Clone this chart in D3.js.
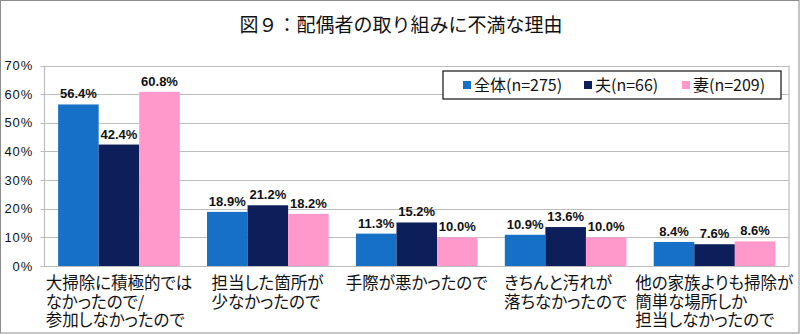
<!DOCTYPE html>
<html><head><meta charset="utf-8">
<script src="https://cdn.jsdelivr.net/npm/d3@7"></script>
<style>
body{margin:0;background:#fff;}
svg{display:block;}
.jp{font-family:"Noto Sans CJK JP","Noto Sans",sans-serif;}
.palt{font-feature-settings:"palt";}
</style></head>
<body><svg id="c" width="800" height="334"></svg>
<script>
const title = "図９：配偶者の取り組みに不満な理由";
const categories = [
  ["大掃除に積極的では","なかったので/","参加しなかったので"],
  ["担当した箇所が","少なかったので"],
  ["手際が悪かったので"],
  ["きちんと汚れが","落ちなかったので"],
  ["他の家族よりも掃除が","簡単な場所しか","担当しなかったので"]
];
const seriesNames = ["全体(n=275)","夫(n=66)","妻(n=209)"];
const seriesColors = ["#1670c6","#0c1f5b","#ff99cc"];
const allValues  = [56.4, 18.9, 11.3, 10.9, 8.4];
const husbandValues = [42.4, 21.2, 15.2, 13.6, 7.6];
const wifeValues = [60.8, 18.2, 10.0, 10.0, 8.6];
const yTicks = [0,10,20,30,40,50,60,70];

const series = [allValues, husbandValues, wifeValues];
const svg = d3.select("#c");
const W = 800, H = 334;
const L = 44.5, R = 789, T = 65.5, B = 266;

// outer border
svg.append("rect").attr("x",0.5).attr("y",0.5).attr("width",W-1.5).attr("height",H-1.5)
  .attr("fill","#fff").attr("stroke","#8c8c8c");

svg.append("text").attr("class","jp").attr("x",401).attr("y",32)
  .attr("text-anchor","middle").attr("font-size",19).attr("fill","#111").text(title);

const x0 = d3.scaleBand().domain(d3.range(categories.length)).range([L,R]).paddingInner(0.183).paddingOuter(0.0915);
const x1 = d3.scaleBand().domain(d3.range(series.length)).range([0,x0.bandwidth()]);
const y = d3.scaleLinear().domain([0,70]).range([B,T]);

// gridlines
svg.append("g").selectAll("line").data(yTicks).join("line")
  .attr("x1",L-4).attr("x2",R).attr("y1",d=>Math.round(y(d))+0.5).attr("y2",d=>Math.round(y(d))+0.5)
  .attr("stroke","#bdbdbd").attr("stroke-width",1.2);
svg.append("line").attr("x1",L).attr("x2",L).attr("y1",T).attr("y2",B+0.5).attr("stroke","#bdbdbd").attr("stroke-width",1.2);
svg.append("line").attr("x1",R).attr("x2",R).attr("y1",T).attr("y2",B+0.5).attr("stroke","#bdbdbd").attr("stroke-width",1.2);

// y tick labels
svg.append("g").selectAll("text").data(yTicks).join("text")
  .attr("x",33).attr("y",d=>y(d)+4.5).attr("text-anchor","end")
  .attr("font-family","Liberation Sans").attr("font-size",13).attr("fill","#111")
  .attr("letter-spacing",0.8)
  .text(d=>d+"%");

// bars
const groups = svg.append("g").selectAll("g").data(categories).join("g")
  .attr("transform",(d,i)=>`translate(${x0(i)},0)`);
groups.selectAll("rect").data((d,i)=>series.map((s,k)=>({k,v:s[i]}))).join("rect")
  .attr("x",d=>x1(d.k)).attr("width",x1.bandwidth())
  .attr("y",d=>y(d.v)).attr("height",d=>B-y(d.v))
  .attr("fill",d=>seriesColors[d.k]);
groups.selectAll("text.v").data((d,i)=>series.map((s,k)=>({k,v:s[i]}))).join("text")
  .attr("class","v")
  .attr("x",d=>x1(d.k)+x1.bandwidth()/2).attr("y",d=>y(d.v)-6)
  .attr("text-anchor","middle").attr("font-family","Liberation Sans").attr("font-weight","bold")
  .attr("font-size",13).attr("fill","#111").text(d=>d.v.toFixed(1)+"%");

// category labels
categories.forEach((lines,i)=>{
  const g = svg.append("g");
  const t = g.append("text").attr("class","jp palt").attr("font-size",16.5).attr("fill","#111");
  lines.forEach((ln,j)=>{
    t.append("tspan").attr("x",0).attr("y",289+j*18.5).text(ln);
  });
  const w = t.node().getBBox().width;
  t.attr("transform",`translate(${x0(i)+x0.bandwidth()/2 - w/2},0)`);
});

// legend
const lg = svg.append("g");
lg.append("rect").attr("x",443).attr("y",71).attr("width",338).attr("height",28)
  .attr("fill","#fff").attr("stroke","#111").attr("stroke-width",1.2);
const legX = [463,584,682];
seriesNames.forEach((n,k)=>{
  lg.append("rect").attr("x",legX[k]).attr("y",81).attr("width",8).attr("height",8).attr("fill",seriesColors[k]);
  lg.append("text").attr("class","jp").attr("x",legX[k]+11).attr("y",91)
    .attr("font-size",16).attr("fill","#111").text(n);
});
</script></body></html>
